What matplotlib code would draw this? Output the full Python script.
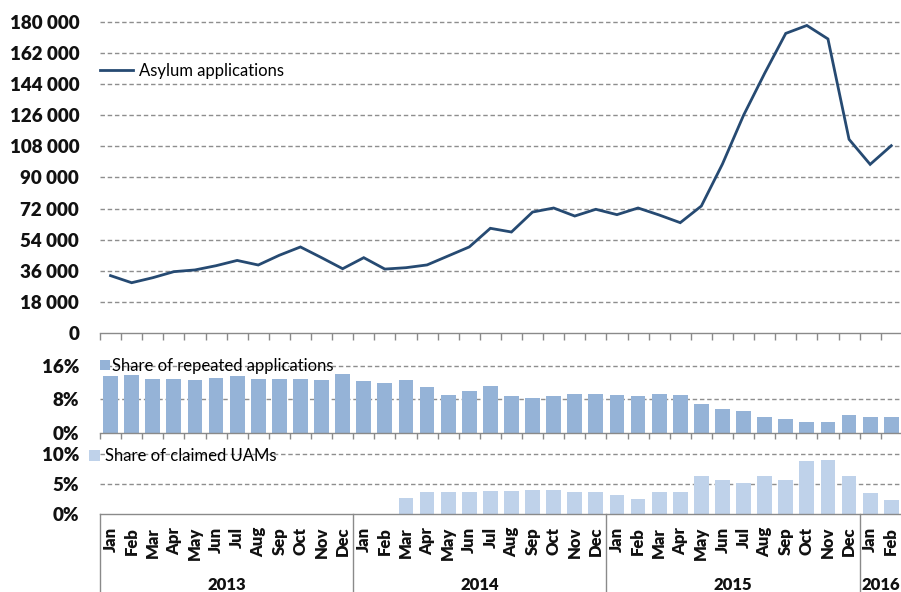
import numpy as np
import matplotlib
matplotlib.use("Agg")
import matplotlib.pyplot as plt
from matplotlib.lines import Line2D
from matplotlib.patches import Patch
import matplotlib.transforms as mtransforms

plt.rcParams['font.family'] = ['Lato', 'DejaVu Sans']

# ---------------- data ----------------
months = ['Jan', 'Feb', 'Mar', 'Apr', 'May', 'Jun', 'Jul', 'Aug', 'Sep', 'Oct', 'Nov', 'Dec']
month_labels = months * 3 + ['Jan', 'Feb']
years = ['2013', '2014', '2015', '2016']
year_spans = [(0, 12), (12, 24), (24, 36), (36, 38)]

asylum_applications = [33200, 29100, 32000, 35500, 36500, 38950, 42000, 39350, 45000, 49800, 43600, 37200,
                       43600, 37000, 37800, 39400, 44600, 49800, 60600, 58450, 70000, 72350, 67700, 71600,
                       68500, 72350, 68300, 63850, 73500, 97800, 126000, 150300, 173400, 178000, 170200,
                       112100, 97600, 108400]

share_repeated = [13.5, 13.85, 12.9, 12.9, 12.6, 13.2, 13.5, 12.9, 12.9, 12.9, 12.6, 14.2,
                  12.3, 11.9, 12.6, 10.9, 9.0, 10.0, 11.3, 8.7, 8.4, 8.7, 9.3, 9.3,
                  9.0, 8.7, 9.3, 9.0, 6.8, 5.8, 5.2, 3.8, 3.2, 2.6, 2.6, 4.2, 3.8, 3.8]

share_uams = [np.nan] * 14 + [2.7, 3.7, 3.7, 3.7, 3.9, 3.9, 4.1, 4.1, 3.7, 3.7,
                              3.2, 2.5, 3.7, 3.7, 6.3, 5.7, 5.2, 6.3, 5.7, 8.8, 9.05, 6.3,
                              3.45, 2.3]

line_ticks = list(range(0, 180001, 18000))
rep_ticks = [0, 8, 16]
uam_ticks = [0, 5, 10]

# ---------------- style ----------------
LINE_C = '#264A72'
REP_C = '#95B3D7'
UAM_C = '#BFD2EA'
GRID_C = '#8E8E8E'
AX_C = '#8A8A8A'
TXT_C = '#111111'

W, H = 901, 592
fig = plt.figure(figsize=(W / 100, H / 100), dpi=100)

def box(top_px, bot_px, left_px=100, right_px=100 + 38 * 21.1):
    return [left_px / W, (H - bot_px) / H, (right_px - left_px) / W, (bot_px - top_px) / H]

ax1 = fig.add_axes(box(22, 333))
ax2 = fig.add_axes(box(366, 432.7))
ax3 = fig.add_axes(box(454.3, 514))

n = len(month_labels)
x = np.arange(n) + 0.5

for ax in (ax1, ax2, ax3):
    ax.set_xlim(0, n)
    for s in ('top', 'right', 'left'):
        ax.spines[s].set_visible(False)
    ax.spines['bottom'].set_color(AX_C)
    ax.spines['bottom'].set_linewidth(1.0)
    ax.tick_params(axis='y', length=0, pad=15, labelsize=13.5, labelcolor=TXT_C)
    ax.patch.set_alpha(0)

def grid(ax, vals):
    for v in vals:
        if v == 0:
            continue
        ax.axhline(v, color=GRID_C, lw=1.0, dashes=(3.2, 2.0), zorder=0.5, clip_on=False)

# ---- top: line ----
ax1.set_ylim(0, 180000)
ax1.set_yticks(line_ticks)
ax1.set_yticklabels([f"{v:,}".replace(",", " ") for v in line_ticks], fontweight='heavy')
grid(ax1, line_ticks)
ax1.plot(x, asylum_applications, color=LINE_C, lw=2.0, zorder=3, solid_joinstyle='miter')
ax1.set_xticks(np.arange(n + 1))
ax1.set_xticklabels([])
ax1.tick_params(axis='x', direction='out', length=5, width=1.0, color=AX_C)
ax1.legend(handles=[Line2D([0], [0], color=LINE_C, lw=2.0)], labels=['Asylum applications'],
           loc='center left', bbox_to_anchor=(0, (333 - 71) / 311), frameon=False,
           fontsize=12, handlelength=2.0, handletextpad=0.35, borderpad=0, borderaxespad=0)

# ---- middle: repeated ----
ax2.set_ylim(0, 16)
ax2.set_yticks(rep_ticks)
ax2.set_yticklabels([f"{v}%" for v in rep_ticks], fontweight='heavy')
grid(ax2, rep_ticks)
ax2.bar(x, share_repeated, width=0.7, color=REP_C, zorder=2)
ax2.set_xticks(np.arange(n + 1))
ax2.set_xticklabels([])
ax2.tick_params(axis='x', direction='out', length=4, width=1.0, color=AX_C)
ax2.legend(handles=[Patch(facecolor=REP_C, edgecolor='none')], labels=['Share of repeated applications'],
           loc='center left', bbox_to_anchor=(0.0, 1.0), frameon=False,
           fontsize=12, handlelength=0.6, handleheight=0.6, handletextpad=0.15,
           borderpad=0, borderaxespad=0)

# ---- bottom: UAMs ----
ax3.set_ylim(0, 10)
ax3.set_yticks(uam_ticks)
ax3.set_yticklabels([f"{v}%" for v in uam_ticks], fontweight='heavy')
grid(ax3, uam_ticks)
ax3.bar(x, share_uams, width=0.7, color=UAM_C, zorder=2)
ax3.set_xticks([])
ax3.legend(handles=[Patch(facecolor=UAM_C, edgecolor='none')], labels=['Share of claimed UAMs'],
           loc='center left', bbox_to_anchor=(-11 / 801.8, 1.0 - 2 / 59.7), frameon=False,
           fontsize=12, handlelength=0.65, handleheight=0.65, handletextpad=0.3,
           borderpad=0, borderaxespad=0)

# category axis: month labels, year labels, separators
trans = mtransforms.blended_transform_factory(ax3.transData, ax3.transAxes)
px = 1 / 59.7  # one pixel in ax3 axes units
for xi, lab in zip(x, month_labels):
    ax3.text(xi, -13 * px, lab, transform=trans, rotation=90, ha='center', va='top',
             fontsize=12, fontweight='heavy', color=TXT_C, clip_on=False)
for (a, b), yr in zip(year_spans, years):
    ax3.text((a + b) / 2, -71 * px, yr, transform=trans, ha='center', va='center',
             fontsize=12, fontweight='heavy', color=TXT_C, clip_on=False)
for a in [0, 12, 24, 36]:
    ax3.plot([a, a], [0, -80 * px], transform=trans, color=AX_C, lw=1.0, clip_on=False)

fig.savefig('out.png', dpi=100)
